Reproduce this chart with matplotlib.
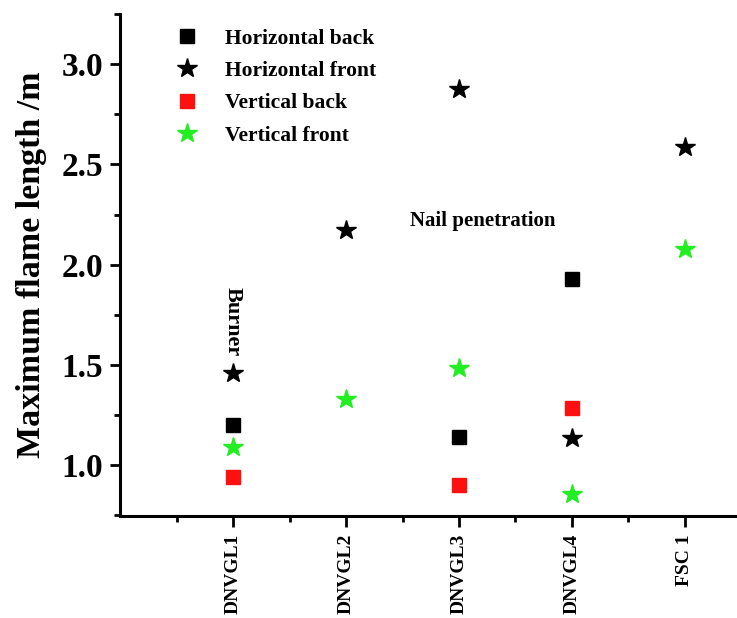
import numpy as np
import matplotlib.pyplot as plt
from matplotlib.ticker import MultipleLocator, FixedLocator

plt.rcParams['font.family'] = ['Liberation Serif', 'DejaVu Serif']
plt.rcParams['font.weight'] = 'bold'

# data
cases = ['DNVGL1', 'DNVGL2', 'DNVGL3', 'DNVGL4', 'FSC 1']
horiz_back = [1.20, np.nan, 1.14, 1.93, np.nan]
horiz_front = [1.46, 2.175, 2.875, 1.135, 2.585]
vert_back = [0.94, np.nan, 0.90, 1.285, np.nan]
vert_front = [1.09, 1.33, 1.485, 0.855, 2.08]

x = np.arange(1, len(cases) + 1)

fig = plt.figure(figsize=(7.37, 6.18), dpi=100)
ax = fig.add_axes([0.163, 0.165, 0.843, 0.812])

ax.plot(x, horiz_back, 's', color='black', ms=10.5, ls='none', label='Horizontal back')
ax.plot(x, horiz_front, '*', color='black', ms=15, ls='none', label='Horizontal front')
ax.plot(x, vert_back, 's', color='#ff1010', ms=10.5, ls='none', label='Vertical back')
ax.plot(x, vert_front, '*', color='#22ee22', ms=15, ls='none', label='Vertical front')

ax.set_xlim(0, 5.5)
ax.set_ylim(0.745, 3.25)
ax.set_xticks(x)
ax.set_xticklabels(cases, rotation=90, fontsize=14, fontweight='bold')
ax.xaxis.set_minor_locator(FixedLocator(np.arange(0.5, 5.6, 1.0)))
ax.yaxis.set_major_locator(MultipleLocator(0.5))
ax.yaxis.set_minor_locator(MultipleLocator(0.25))
for lab in ax.get_yticklabels():
    lab.set_fontsize(24)
    lab.set_fontweight('bold')

ax.spines['top'].set_visible(False)
ax.spines['right'].set_visible(False)
ax.spines['left'].set_linewidth(2.2)
ax.spines['bottom'].set_linewidth(2.2)
ax.tick_params(axis='y', which='major', direction='out', length=7, width=2, pad=5)
ax.tick_params(axis='y', which='minor', direction='out', length=4, width=2)
ax.tick_params(axis='x', which='major', direction='out', length=8, width=2, pad=5)
ax.tick_params(axis='x', which='minor', direction='out', length=4, width=2)

ax.set_ylabel('Maximum flame length /m', fontsize=24.5, fontweight='bold', labelpad=11)

ax.text(1.0, 1.715, 'Burner', rotation=-90, ha='center', va='center',
        fontsize=16, fontweight='bold')
ax.text(3.21, 2.22, 'Nail penetration', ha='center', va='center',
        fontsize=15, fontweight='bold')

ax.legend(loc='upper left', bbox_to_anchor=(0.051, 1.01), frameon=False,
          prop={'weight': 'bold', 'size': 15.5},
          handletextpad=1.0, labelspacing=0.57, handlelength=1.5)

fig.savefig('out.png', dpi=100)
